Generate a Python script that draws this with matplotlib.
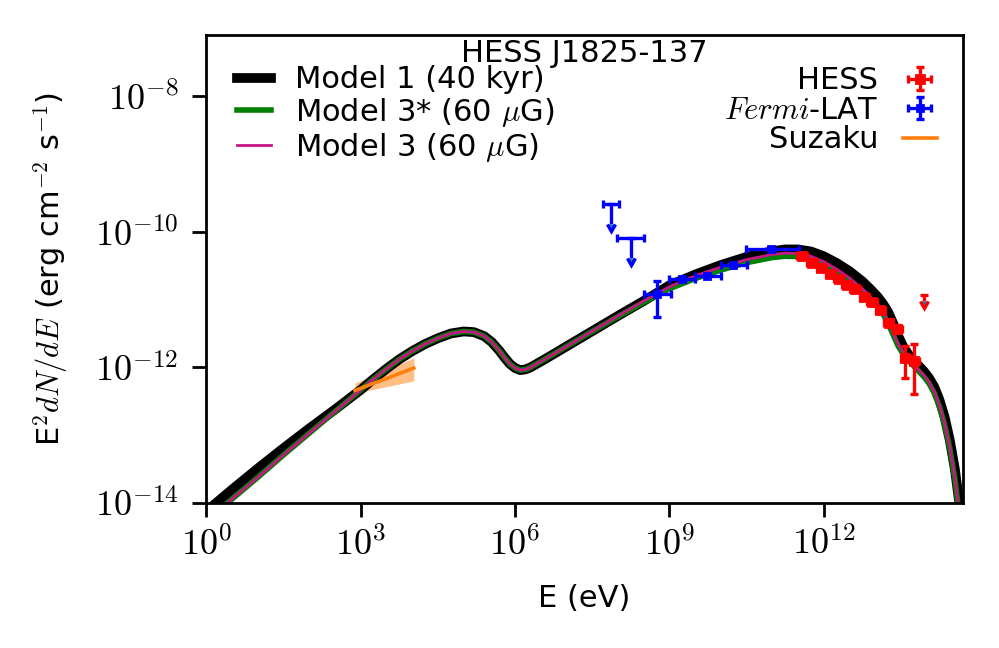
import numpy as np
import matplotlib
matplotlib.use("Agg")
import matplotlib.pyplot as plt
from matplotlib.container import ErrorbarContainer
from matplotlib.legend_handler import HandlerErrorbar
from matplotlib.ticker import FuncFormatter

plt.rcParams['mathtext.fontset'] = 'cm'
plt.rcParams['font.size'] = 11

# model SEDs: log10(E / eV) and log10(E^2 dN/dE / erg cm^-2 s^-1)
model_loge = [0.0, 0.5, 1.0, 1.5, 2.0, 2.5, 3.0, 3.25, 3.5, 3.75, 4.0, 4.25,
              4.5, 4.75, 5.0, 5.2, 5.4, 5.55, 5.7, 5.8, 5.9, 6.0, 6.1, 6.2,
              6.3, 6.45, 6.6, 6.8, 7.0, 7.5, 8.0, 8.5, 9.0, 9.5, 10.0, 10.5,
              11.0, 11.25, 11.5, 11.75, 12.0, 12.25, 12.5, 12.75, 12.9, 13.05,
              13.15, 13.25, 13.35, 13.45, 13.55, 13.65, 13.75, 13.85, 13.95,
              14.05, 14.15, 14.25, 14.35, 14.45, 14.55, 14.65]
model1_logf = [-14.12, -13.80, -13.49, -13.19, -12.90, -12.62, -12.33, -12.17,
               -12.02, -11.88, -11.76, -11.655, -11.57, -11.50, -11.47, -11.48,
               -11.54, -11.63, -11.76, -11.86, -11.95, -12.01, -12.04, -12.03,
               -12.00, -11.935, -11.87, -11.78, -11.69, -11.465, -11.24, -11.02,
               -10.79, -10.63, -10.49, -10.37, -10.285, -10.26, -10.26, -10.29,
               -10.36, -10.46, -10.58, -10.73, -10.84, -10.96, -11.06, -11.18,
               -11.35, -11.54, -11.70, -11.81, -11.90, -11.98, -12.06, -12.16,
               -12.29, -12.48, -12.73, -13.07, -13.50, -14.08]
model3s_logf = [-14.27, -13.94, -13.62, -13.29, -12.97, -12.65, -12.33, -12.17,
                -12.02, -11.88, -11.76, -11.655, -11.57, -11.50, -11.47, -11.48,
                -11.54, -11.63, -11.76, -11.86, -11.95, -12.01, -12.04, -12.03,
                -12.00, -11.935, -11.87, -11.78, -11.69, -11.47, -11.25, -11.04,
                -10.84, -10.69, -10.565, -10.455, -10.38, -10.36, -10.365,
                -10.405, -10.485, -10.595, -10.725, -10.885, -10.99, -11.11,
                -11.21, -11.35, -11.52, -11.69, -11.81, -11.90, -11.98, -12.06,
                -12.14, -12.24, -12.38, -12.58, -12.84, -13.19, -13.64, -14.27]
model3_logf = [-14.27, -13.94, -13.62, -13.29, -12.97, -12.65, -12.33, -12.17,
               -12.02, -11.88, -11.76, -11.655, -11.57, -11.50, -11.47, -11.48,
               -11.54, -11.63, -11.76, -11.86, -11.95, -12.01, -12.04, -12.03,
               -12.00, -11.935, -11.87, -11.78, -11.69, -11.465, -11.24, -11.02,
               -10.81, -10.65, -10.52, -10.41, -10.335, -10.315, -10.32, -10.36,
               -10.44, -10.55, -10.68, -10.84, -10.95, -11.07, -11.17, -11.31,
               -11.49, -11.66, -11.79, -11.88, -11.96, -12.04, -12.12, -12.22,
               -12.36, -12.56, -12.82, -13.17, -13.62, -14.25]

# HESS flux points
hess_loge = [11.58, 11.77, 11.95, 12.13, 12.29, 12.45, 12.61, 12.79, 12.94,
             13.10, 13.26, 13.43, 13.59, 13.76]
hess_dloge = [0.09, 0.09, 0.09, 0.09, 0.09, 0.09, 0.09, 0.09, 0.09, 0.09,
              0.09, 0.09, 0.09, 0.09]
hess_logf = [-10.36, -10.46, -10.53, -10.62, -10.69, -10.78, -10.85, -10.96,
             -11.03, -11.15, -11.34, -11.43, -11.86, -11.90]
hess_logf_lo = [-10.38, -10.48, -10.55, -10.64, -10.72, -10.81, -10.88, -10.99,
                -11.06, -11.19, -11.39, -11.49, -12.16, -12.39]
hess_logf_hi = [-10.34, -10.44, -10.51, -10.60, -10.67, -10.75, -10.82, -10.93,
                -11.00, -11.11, -11.29, -11.38, -11.69, -11.66]
hess_ul_loge = [13.945]
hess_ul_logf = [-10.93]

# Fermi-LAT flux points and upper limits
fermi_loge = [8.75, 9.24, 9.74, 10.24, 10.98]
fermi_loge_lo = [8.50, 9.00, 9.50, 10.00, 10.49]
fermi_loge_hi = [9.03, 9.50, 10.00, 10.50, 11.52]
fermi_logf = [-10.92, -10.70, -10.645, -10.49, -10.26]
fermi_logf_lo = [-11.25, -10.73, -10.67, -10.52, -10.28]
fermi_logf_hi = [-10.73, -10.67, -10.62, -10.46, -10.24]
fermi_ul_loge = [7.855, 8.245]
fermi_ul_loge_lo = [7.70, 7.99]
fermi_ul_loge_hi = [8.02, 8.50]
fermi_ul_logf = [-9.586, -10.088]

# Suzaku X-ray spectrum
suzaku_loge = [2.887, 3.46, 4.03]
suzaku_logf = [-12.34, -12.175, -12.01]
suzaku_logf_lo = [-12.38, -12.29, -12.20]
suzaku_logf_hi = [-12.23, -12.05, -11.86]


def p10(a):
    return 10.0 ** np.asarray(a, dtype=float)


def asym(center, lo, hi):
    c = p10(center)
    return c, np.vstack([c - p10(lo), p10(hi) - c])


fig = plt.figure(figsize=(4.995, 3.24), dpi=200)
ax = fig.add_axes([0.2067, 0.2238, 0.7568, 0.7222])

E = p10(model_loge)
l1, = ax.plot(E, p10(model1_logf), color='black', lw=3.5, label='Model 1 (40 kyr)')
l2, = ax.plot(E, p10(model3s_logf), color='green', lw=2.0, label=r'Model 3* (60 $\mu$G)')
l3, = ax.plot(E, p10(model3_logf), color='mediumvioletred', lw=1.0, label=r'Model 3 (60 $\mu$G)')

# Suzaku
Es = p10(suzaku_loge)
ax.fill_between(Es, p10(suzaku_logf_lo), p10(suzaku_logf_hi), color='C1', alpha=0.5, lw=0)
l_suz, = ax.plot(Es, p10(suzaku_logf), color='C1', lw=1.3, label='Suzaku')

# HESS
eh = p10(hess_loge)
exh = np.vstack([eh - p10(np.subtract(hess_loge, hess_dloge)),
                 p10(np.add(hess_loge, hess_dloge)) - eh])
fh, eyh = asym(hess_logf, hess_logf_lo, hess_logf_hi)
h_hess = ax.errorbar(eh, fh, xerr=exh, yerr=eyh, fmt='s', color='red', ms=3.2,
                     lw=1.2, capsize=1.6, capthick=1.2, label='HESS', zorder=5)
fu = p10(hess_ul_logf)
ax.errorbar(p10(hess_ul_loge), fu, yerr=0.2 * fu, uplims=True, fmt='none',
            ecolor='red', lw=1.2, capsize=1.6, capthick=1.2, zorder=5)

# Fermi-LAT
ef, exf = asym(fermi_loge, fermi_loge_lo, fermi_loge_hi)
ff, eyf = asym(fermi_logf, fermi_logf_lo, fermi_logf_hi)
h_fermi = ax.errorbar(ef, ff, xerr=exf, yerr=eyf, fmt='s', color='blue', ms=2.5,
                      lw=1.2, capsize=1.6, capthick=1.2, label=r'$Fermi$-LAT', zorder=5)
eu, exu = asym(fermi_ul_loge, fermi_ul_loge_lo, fermi_ul_loge_hi)
fu = p10(fermi_ul_logf)
ax.errorbar(eu, fu, xerr=exu, yerr=0.5 * fu, uplims=True, fmt='none',
            ecolor='blue', lw=1.2, capsize=1.6, capthick=1.2, zorder=5)

ax.set_xscale('log')
ax.set_yscale('log')
ax.set_xlim(1, 5e14)
ax.set_ylim(1e-14, 8e-8)
ax.set_xticks([1e0, 1e3, 1e6, 1e9, 1e12])
ax.set_yticks([1e-14, 1e-12, 1e-10, 1e-8])
ax.minorticks_off()
pow_fmt = FuncFormatter(lambda v, p: r'$10^{%d}$' % int(round(np.log10(v))))
ax.xaxis.set_major_formatter(pow_fmt)
ax.yaxis.set_major_formatter(pow_fmt)
ax.tick_params(length=5, width=1, labelsize=13)
ax.tick_params(axis='y', pad=5)
for s in ax.spines.values():
    s.set_linewidth(1)

ax.set_xlabel('E (eV)', labelpad=8)
ax.set_ylabel(r'E$^2dN/dE$ (erg cm$^{-2}$ s$^{-1}$)', labelpad=9)

ax.text(0.5, 0.943, 'HESS J1825-137', transform=ax.transAxes,
        ha='center', va='baseline')

leg1 = ax.legend(handles=[l1, l2, l3], loc='upper left', frameon=False,
                 handlelength=1.1, handletextpad=0.8, labelspacing=0.06,
                 bbox_to_anchor=(0.004, 0.994))
ax.add_artist(leg1)
ax.legend(handles=[h_hess, h_fermi, l_suz], loc='upper right', frameon=False,
          markerfirst=False, handlelength=1.1, handletextpad=0.8,
          labelspacing=0.02, bbox_to_anchor=(1.002, 0.992),
          handler_map={ErrorbarContainer: HandlerErrorbar(xerr_size=0.37)})

fig.savefig('out.png', dpi=200)
